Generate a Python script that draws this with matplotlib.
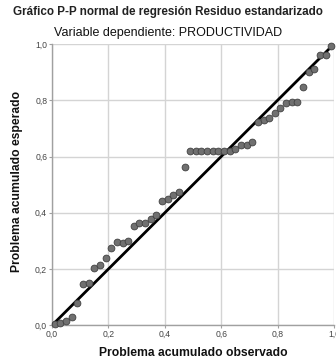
import matplotlib
matplotlib.use("Agg")
import matplotlib.pyplot as plt
from matplotlib.ticker import FuncFormatter

plt.rcParams['font.family'] = ['Liberation Sans', 'DejaVu Sans']

observed = [0.01, 0.03, 0.05, 0.07, 0.09, 0.11, 0.13, 0.15, 0.17, 0.19,
            0.21, 0.23, 0.25, 0.27, 0.29, 0.31, 0.33, 0.35, 0.37, 0.39,
            0.41, 0.43, 0.45, 0.47, 0.49, 0.51, 0.53, 0.55, 0.57, 0.59,
            0.61, 0.63, 0.65, 0.67, 0.69, 0.71, 0.73, 0.75, 0.77, 0.79,
            0.81, 0.83, 0.85, 0.87, 0.89, 0.91, 0.93, 0.95, 0.97, 0.99]
expected = [0.005, 0.009, 0.014, 0.031, 0.078, 0.146, 0.150, 0.203, 0.214, 0.240,
            0.274, 0.295, 0.294, 0.301, 0.354, 0.362, 0.362, 0.377, 0.392, 0.442,
            0.450, 0.464, 0.473, 0.564, 0.621, 0.621, 0.621, 0.621, 0.621, 0.621,
            0.621, 0.621, 0.628, 0.642, 0.642, 0.652, 0.724, 0.730, 0.738, 0.756,
            0.774, 0.789, 0.794, 0.794, 0.848, 0.900, 0.910, 0.960, 0.962, 0.993]
ticks = [0.0, 0.2, 0.4, 0.6, 0.8, 1.0]

fig = plt.figure(figsize=(3.36, 3.63), dpi=100)
ax = fig.add_axes([0.1548, 0.1039, 0.8393, 0.7749])

ax.set_xlim(0, 1)
ax.set_ylim(0, 1)
ax.set_xticks(ticks)
ax.set_yticks(ticks)
fmt = FuncFormatter(lambda v, p: f"{v:.1f}".replace('.', ','))
ax.xaxis.set_major_formatter(fmt)
ax.yaxis.set_major_formatter(fmt)
ax.grid(True, color='#d4d4d4', linewidth=1.0)
ax.set_axisbelow(True)
for s in ['top', 'right']:
    ax.spines[s].set_visible(False)
for s in ['left', 'bottom']:
    ax.spines[s].set_color('#a0a0a0')
    ax.spines[s].set_linewidth(1.0)
ax.tick_params(axis='both', length=2, width=0.8, color='#a0a0a0',
               labelsize=6.2, labelcolor='#444444', pad=1.5)

ax.plot([0, 1], [0, 1], color='black', linewidth=2.0, zorder=3)
ax.scatter(observed, expected, s=24, facecolor='#707070', edgecolor='#404040',
           linewidth=0.6, zorder=4, clip_on=False)

fig.text(0.5, 1 - 12/363, 'Gráfico P-P normal de regresión Residuo estandarizado',
         ha='center', va='center', fontsize=8.4, fontweight='bold', color='#222222')
fig.text(0.5, 1 - 33/363, 'Variable dependiente: PRODUCTIVIDAD',
         ha='center', va='center', fontsize=9.0, color='#111111')
fig.text(193/336, 1 - 353/363, 'Problema acumulado observado',
         ha='center', va='center', fontsize=8.7, fontweight='bold', color='#111111')
fig.text(17/336, 1 - 181/363, 'Problema acumulado esperado', rotation=90,
         ha='center', va='center', fontsize=8.7, fontweight='bold', color='#111111')

fig.savefig('out.png', dpi=100)
